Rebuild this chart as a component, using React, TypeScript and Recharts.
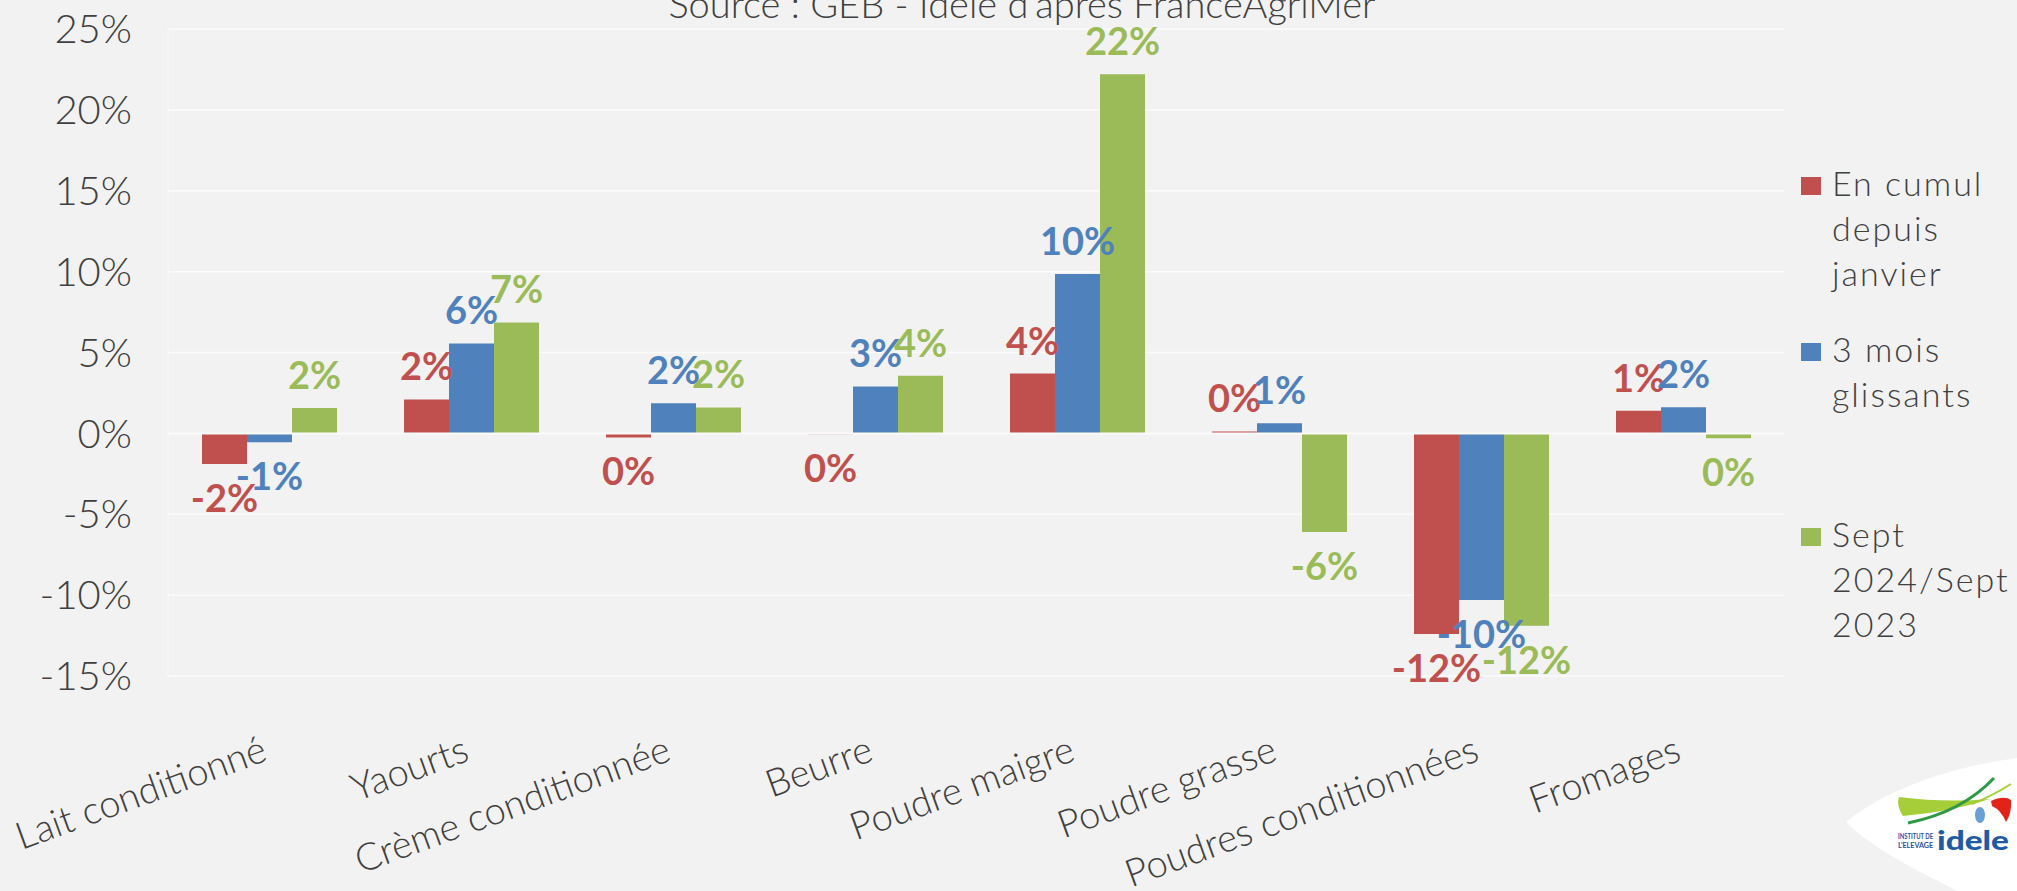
import React from 'react';
import { BarChart, Bar, XAxis, YAxis, CartesianGrid, ReferenceLine, LabelList } from 'recharts';

const categories = [
  'Lait conditionné',
  'Yaourts',
  'Crème conditionnée',
  'Beurre',
  'Poudre maigre',
  'Poudre grasse',
  'Poudres conditionnées',
  'Fromages',
];

// values in %
const cumulJanvier = [-1.9, 2.1, -0.25, -0.05, 3.7, 0.12, -12.4, 1.4];
const troisMois = [-0.55, 5.56, 1.87, 2.9, 9.85, 0.62, -10.3, 1.62];
const septVsSept = [1.57, 6.86, 1.6, 3.57, 22.2, -6.1, -11.9, -0.3];

const yTicks = [-15, -10, -5, 0, 5, 10, 15, 20, 25];

const seriesNames = ['En cumul depuis janvier', '3 mois glissants', 'Sept 2024/Sept 2023'];
const legendLines = [
  ['En cumul', 'depuis', 'janvier'],
  ['3 mois', 'glissants'],
  ['Sept', '2024/Sept', '2023'],
];

const RED = '#C0504D';
const BLUE = '#4F81BD';
const GREEN = '#9BBB59';
const colors = [RED, BLUE, GREEN];

const FONT = 'Lato, "Noto Sans", sans-serif';
const TEXT = '#404040';

const data = categories.map((name, i) => ({
  name,
  cumul: cumulJanvier[i],
  mois: troisMois[i],
  sept: septVsSept[i],
}));

const makeLabel = (color: string) => (props: any) => {
  const vb = props.viewBox || {};
  const x = Number(props.x ?? vb.x);
  const y = Number(props.y ?? vb.y);
  const w = Number(props.width ?? vb.width);
  const h = Number(props.height ?? vb.height);
  const v = Number(props.value);
  const top = Math.min(y, y + h);
  const bottom = Math.max(y, y + h);
  const ty = v >= 0 ? top - 19 : bottom + 48;
  return (
    <text x={x + w / 2} y={ty} textAnchor="middle" fill={color} fontSize={38} fontWeight={700} fontFamily={FONT}>
      {`${Math.round(v)}%`}
    </text>
  );
};

function CategoryTick({ x, y, payload }: any) {
  return (
    <g transform={`translate(${x},${y + 84})`}>
      <text transform="rotate(-20)" textAnchor="end" fontSize={38} fill={TEXT} fontFamily={FONT} fontWeight={300}>
        {payload.value}
      </text>
    </g>
  );
}

function Overlay() {
  const starts = [196, 362, 547];
  return (
    <svg width={2017} height={891} style={{ position: 'absolute', left: 0, top: 0, pointerEvents: 'none' }}>
      <text x={1022} y={18} textAnchor="middle" fontSize={38} fill={TEXT} fontFamily={FONT} fontWeight={300}>
        Source : GEB - Idele d'après FranceAgriMer
      </text>

      {legendLines.map((lines, i) => (
        <g key={seriesNames[i]}>
          <rect x={1801} y={starts[i] - 19} width={20} height={18} fill={colors[i]} />
          {lines.map((t, j) => (
            <text key={t} x={1832} y={starts[i] + j * 45} fontSize={34} letterSpacing={2} fill={TEXT} fontFamily={FONT} fontWeight={300}>
              {t}
            </text>
          ))}
        </g>
      ))}

      {/* logo */}
      <path d="M1846 822 C1885 790 1950 767 2017 758 L2017 891 L1958 891 C1915 870 1872 848 1846 822 Z" fill="#ffffff" />
      <path d="M1899 797 Q1945 803 1990 799 Q1950 812 1903 816 Q1896 806 1899 797 Z" fill="#A6CE39" />
      <path d="M1908 823 Q1962 812 1994 778" stroke="#2E9A47" strokeWidth={3} fill="none" />
      <path d="M1972 804 Q1992 796 2011 784" stroke="#A6CE39" strokeWidth={2} fill="none" />
      <path d="M1991 801 Q2004 795 2011 800 Q2012 813 2006 822 Q2001 810 1992 806 Z" fill="#E2231A" />
      <ellipse cx={1980} cy={815} rx={5} ry={8} fill="#6AA0D8" />
      <text x={1898} y={839} fontSize={7} fontWeight={700} fill="#1F4E9C" fontFamily={FONT} textLength={35} lengthAdjust="spacingAndGlyphs">INSTITUT DE</text>
      <text x={1898} y={848} fontSize={7} fontWeight={700} fill="#1F4E9C" fontFamily={FONT} textLength={35} lengthAdjust="spacingAndGlyphs">L'ELEVAGE</text>
      <text x={1937} y={850} fontSize={26} fontWeight={900} fill="#1F5AA6" fontFamily={FONT} textLength={72} lengthAdjust="spacingAndGlyphs">idele</text>
    </svg>
  );
}

export default function App() {
  return (
    <div style={{ position: 'absolute', left: 0, top: 0, width: 2017, height: 891, background: '#f2f2f2', overflow: 'hidden' }}>
      <BarChart
        width={2017}
        height={891}
        data={data}
        margin={{ top: 29, right: 233, bottom: 65, left: 0 }}
        barGap={0}
        barSize={45}
      >
        <CartesianGrid vertical={false} stroke="#fbfbfb" strokeWidth={1.5} />
        <YAxis
          type="number"
          domain={[-15, 25]}
          ticks={yTicks}
          interval={0}
          width={168}
          tickSize={0}
          tickMargin={36}
          axisLine={{ stroke: '#fafafa' }}
          tickLine={false}
          tickFormatter={(v: number) => `${v}%`}
          tick={{ fontSize: 40, fill: TEXT, fontFamily: FONT, fontWeight: 300 }}
        />
        <XAxis
          dataKey="name"
          height={150}
          tickSize={0}
          tickMargin={0}
          axisLine={false}
          tickLine={false}
          interval={0}
          tick={<CategoryTick />}
        />
        <ReferenceLine y={0} stroke="#fafafa" strokeWidth={2} />
        <Bar dataKey="cumul" name={seriesNames[0]} fill={RED} isAnimationActive={false}>
          <LabelList dataKey="cumul" content={makeLabel(RED)} />
        </Bar>
        <Bar dataKey="mois" name={seriesNames[1]} fill={BLUE} isAnimationActive={false}>
          <LabelList dataKey="mois" content={makeLabel(BLUE)} />
        </Bar>
        <Bar dataKey="sept" name={seriesNames[2]} fill={GREEN} isAnimationActive={false}>
          <LabelList dataKey="sept" content={makeLabel(GREEN)} />
        </Bar>
      </BarChart>
      <Overlay />
    </div>
  );
}
